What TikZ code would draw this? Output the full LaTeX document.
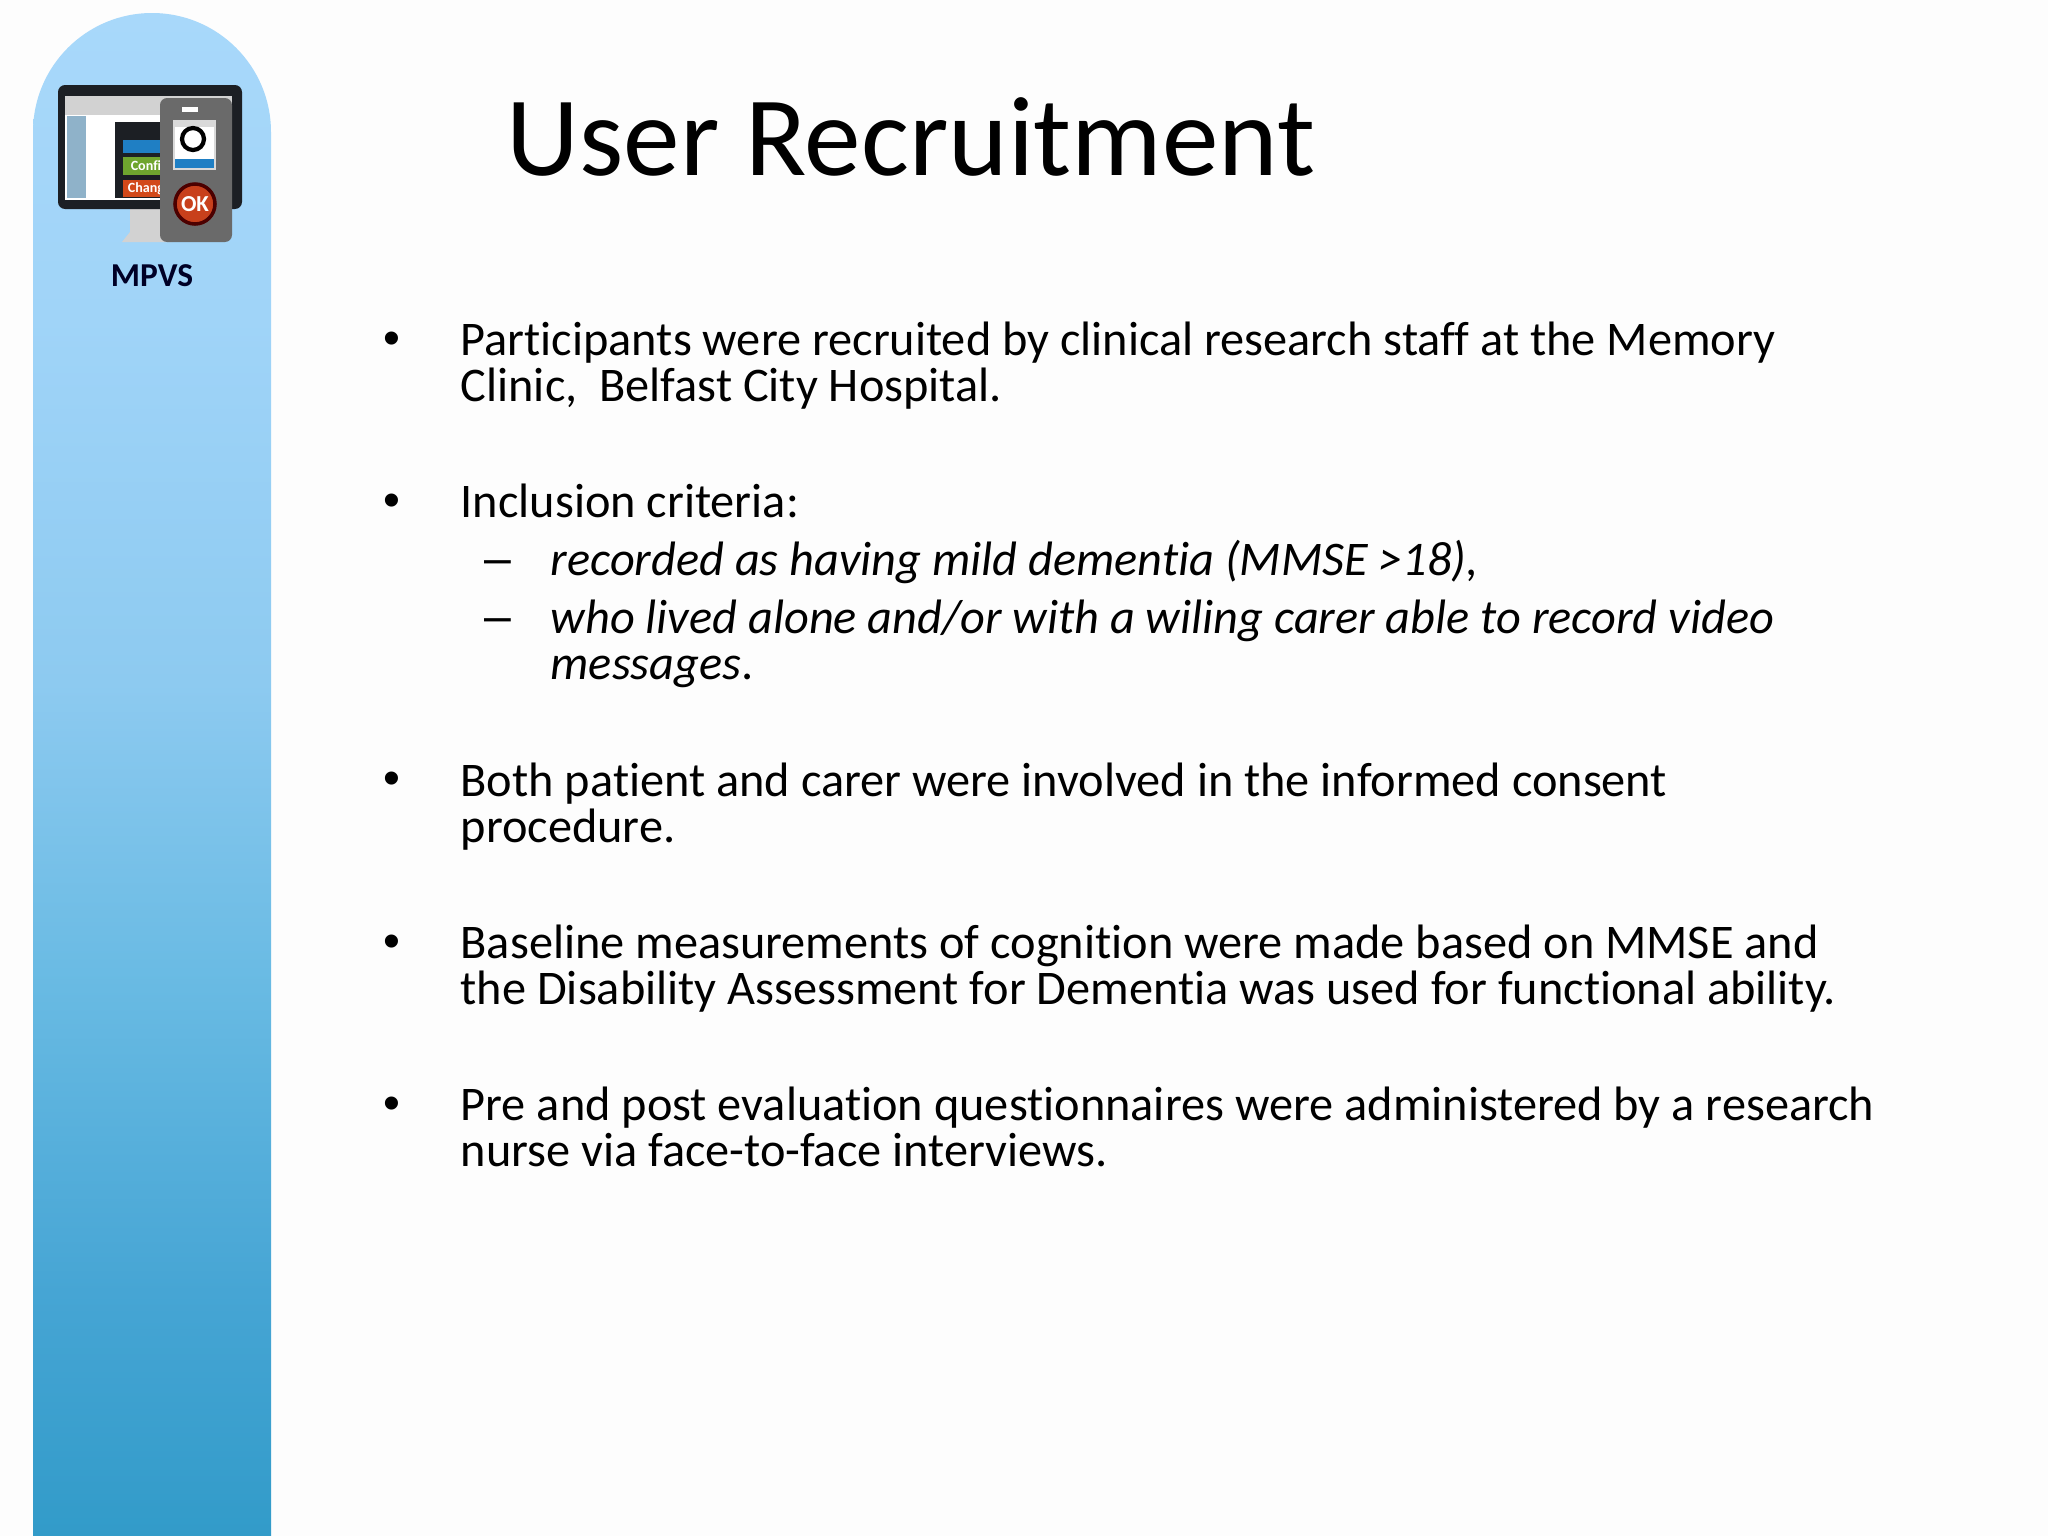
\documentclass[tikz,border=0pt]{standalone}
\usepackage{fontspec}
\setmainfont{Carlito}[Ligatures=NoCommon]
\newfontfamily\markfont{Liberation Sans}
\usepackage{tikz}
\definecolor{pagewhite}{HTML}{FDFDFD}
\definecolor{barone}{HTML}{A8D8FA}
\definecolor{bartwo}{HTML}{A0D4F8}
\definecolor{barthree}{HTML}{8DCAF0}
\definecolor{barfour}{HTML}{68BAE3}
\definecolor{barfive}{HTML}{46A5D4}
\definecolor{barsix}{HTML}{329BC9}
\definecolor{remotegray}{HTML}{6A6A6A}
\definecolor{bezelblack}{HTML}{1C1F24}
\definecolor{stripblue}{HTML}{8FB2C9}
\definecolor{btnblue}{HTML}{1F7FC4}
\definecolor{btngreen}{HTML}{6FA52E}
\definecolor{btnorange}{HTML}{D2491A}
\definecolor{okred}{HTML}{C8401C}
\pgfdeclareverticalshading{barshade}{100bp}{color(0bp)=(barsix); color(25bp)=(barsix); color(33bp)=(barfive); color(43bp)=(barfour); color(53bp)=(barthree); color(65bp)=(bartwo); color(75bp)=(barone); color(100bp)=(barone)}
\tikzset{
    bodyline/.style={anchor=base west, inner sep=0pt, font=\fontsize{13.74}{16}\selectfont},
    subline/.style={bodyline, font=\fontsize{13.74}{16}\selectfont\itshape},
    bulletmark/.style={anchor=base, inner sep=0pt, font=\fontsize{13.7}{16}\selectfont\markfont},
    btnlabel/.style={inner sep=0pt, text=white, font=\fontsize{4}{5}\selectfont\bfseries}
}
\begin{document}
\begin{tikzpicture}[x=0.01cm, y=-0.01cm]
    \useasboundingbox (0,0) rectangle (2048,1536);
    \fill[pagewhite] (0,0) rectangle (2048,1536);

    % side bar
    \shade[shading=barshade] (33,1536) -- (33,132) arc[start angle=180, end angle=360, radius=119] -- (271,1536) -- cycle;

    % monitor
    \fill[gray!35] (130,205) -- (160,205) -- (160,232) -- (172,242) -- (122,242) -- (130,232) -- cycle;
    \fill[bezelblack, rounded corners=2pt] (58,85) rectangle (242,209);
    \fill[white] (65,96) rectangle (232,200);
    \fill[gray!35] (65,96) rectangle (232,115);
    \fill[stripblue] (67,116) rectangle (86,198);
    \fill[bezelblack] (115,122) rectangle (164,198);
    \fill[btnblue] (123,140) rectangle (164,153);
    \fill[btngreen] (123,157) rectangle (164,175);
    \fill[btnorange] (123,180) rectangle (164,197);
    \node[btnlabel] (confirmText) at (146,166) {Confi};
    \node[btnlabel] (changeText) at (146,189) {Chang};

    % remote
    \fill[remotegray, rounded corners=2pt] (160,98) rectangle (232,242);
    \fill[white] (182,107) rectangle (198,112);
    \fill[gray!30] (173,120) rectangle (216,170);
    \fill[white] (175,127) rectangle (214,168);
    \draw[black, line width=1.2pt] (193,139) circle[radius=11];
    \fill[btnblue] (175,159) rectangle (214,168);
    \node[circle, fill=okred, draw=black!70!red, line width=1pt, minimum size=0.4cm, inner sep=0pt, font=\fontsize{6.5}{8}\selectfont\bfseries, text=white] (okBtn) at (195,204) {OK};

    \node[inner sep=0pt, anchor=base, text=black!85!blue, font=\fontsize{9.5}{11}\selectfont\bfseries] (mpvs) at (152,286) {MPVS};

    \node[anchor=base west, inner sep=0pt, font=\fontsize{32.2}{36}\selectfont] (title) at (506,175) {User Recruitment};

    \node[bulletmark] (b1) at (392,354) {•};
    \node[bodyline] (l1) at (460,355) {Participants were recruited by clinical research staff at the Memory};
    \node[bodyline] (l2) at (460,401) {Clinic,~ Belfast City Hospital.};

    \node[bulletmark] (b2) at (392,516) {•};
    \node[bodyline] (l3) at (460,517) {Inclusion criteria:};
    \node[bulletmark] (d1) at (498,574) {–};
    \node[subline] (l4) at (550,575) {recorded as having mild dementia (MMSE >18),};
    \node[bulletmark] (d2) at (498,632) {–};
    \node[subline] (l5) at (550,633) {who lived alone and/or with a wiling carer able to record video};
    \node[bodyline] (l6) at (550,679) {\textit{messages}.};

    \node[bulletmark] (b3) at (392,794) {•};
    \node[bodyline] (l7) at (460,796) {Both patient and carer were involved in the informed consent};
    \node[bodyline] (l8) at (460,842) {procedure.};

    \node[bulletmark] (b4) at (392,957) {•};
    \node[bodyline] (l9) at (460,958) {Baseline measurements of cognition were made based on MMSE and};
    \node[bodyline] (l10) at (460,1004) {the Disability Assessment for Dementia was used for functional ability.};

    \node[bulletmark] (b5) at (392,1119) {•};
    \node[bodyline] (l11) at (460,1120) {Pre and post evaluation questionnaires were administered by a research};
    \node[bodyline] (l12) at (460,1166) {nurse via face-to-face interviews.};
\end{tikzpicture}
\end{document}
